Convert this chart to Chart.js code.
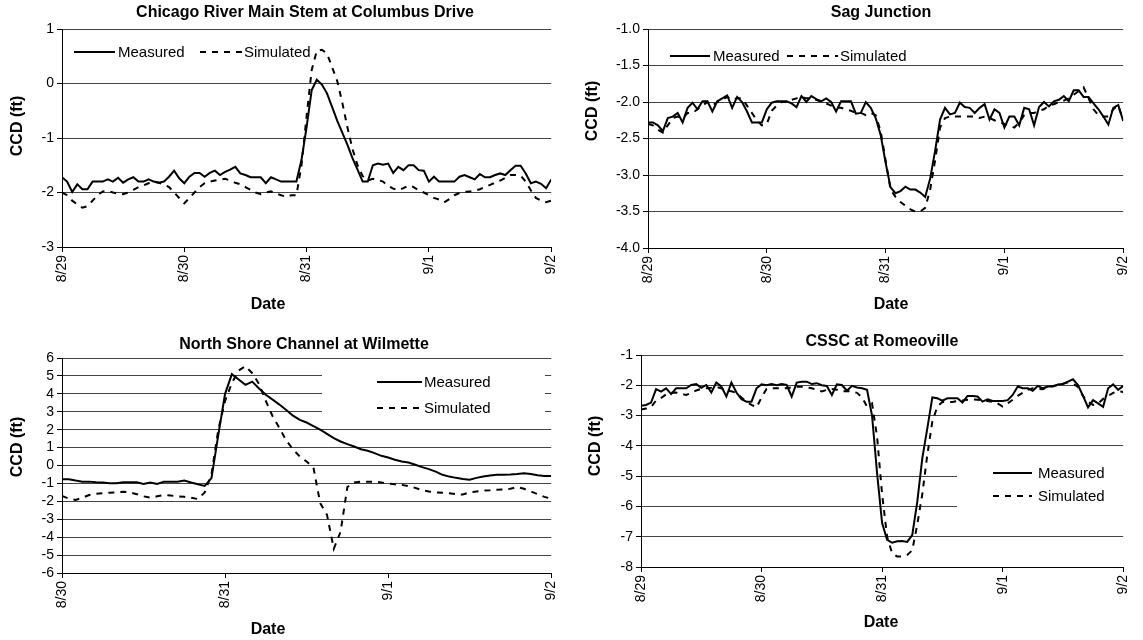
<!DOCTYPE html>
<html><head><meta charset="utf-8">
<script src="https://cdn.jsdelivr.net/npm/chart.js@4.4.1/dist/chart.umd.min.js"></script>
<style>
html,body{margin:0;padding:0;background:#fff;width:1143px;height:640px;overflow:hidden}
canvas{position:absolute}
</style></head><body>
<canvas id="c1" width="571" height="320" style="left:0px;top:0px"></canvas>
<canvas id="c2" width="572" height="320" style="left:571px;top:0px"></canvas>
<canvas id="c3" width="571" height="320" style="left:0px;top:320px"></canvas>
<canvas id="c4" width="572" height="320" style="left:571px;top:320px"></canvas>
<script>
// hourly sample times (hours after first date shown)
const hours4 = [0,1,2,3,4,5,6,7,8,9,10,11,12,13,14,15,16,17,18,19,20,21,22,23,24,25,26,27,28,29,30,31,32,33,34,35,36,37,38,39,40,41,42,43,44,45,46,47,48,49,50,51,52,53,54,55,56,57,58,59,60,61,62,63,64,65,66,67,68,69,70,71,72,73,74,75,76,77,78,79,80,81,82,83,84,85,86,87,88,89,90,91,92,93,94,95,96];
const hours3 = [0,1,2,3,4,5,6,7,8,9,10,11,12,13,14,15,16,17,18,19,20,21,22,23,24,25,26,27,28,29,30,31,32,33,34,35,36,37,38,39,40,41,42,43,44,45,46,47,48,49,50,51,52,53,54,55,56,57,58,59,60,61,62,63,64,65,66,67,68,69,70,71,72];
const dateTicks4 = ['8/29','8/30','8/31','9/1','9/2'];
const dateTicks3 = ['8/30','8/31','9/1','9/2'];
const seriesNames = ['Measured','Simulated'];

// Chicago River Main Stem at Columbus Drive
const p1Measured = [-1.72,-1.8,-1.99,-1.85,-1.94,-1.94,-1.8,-1.8,-1.8,-1.76,
 -1.8,-1.73,-1.82,-1.76,-1.72,-1.8,-1.8,-1.76,-1.8,-1.82,
 -1.8,-1.71,-1.6,-1.74,-1.83,-1.71,-1.64,-1.64,-1.71,-1.64,
 -1.6,-1.68,-1.62,-1.58,-1.53,-1.65,-1.68,-1.72,-1.72,-1.72,
 -1.83,-1.72,-1.76,-1.8,-1.8,-1.8,-1.8,-1.4,-0.8,-0.12,
 0.07,-0.02,-0.18,-0.43,-0.68,-0.9,-1.12,-1.37,-1.58,-1.8,
 -1.8,-1.5,-1.47,-1.49,-1.47,-1.64,-1.53,-1.59,-1.5,-1.5,
 -1.59,-1.6,-1.8,-1.71,-1.8,-1.8,-1.8,-1.8,-1.71,-1.68,
 -1.72,-1.76,-1.66,-1.72,-1.72,-1.68,-1.65,-1.68,-1.59,-1.51,
 -1.51,-1.65,-1.83,-1.8,-1.84,-1.92,-1.76];
const p1Simulated = [-2.0,-2.05,-2.15,-2.22,-2.28,-2.25,-2.15,-2.05,-1.98,-1.97,
 -2.0,-2.02,-2.03,-2.0,-1.95,-1.9,-1.87,-1.83,-1.8,-1.82,
 -1.85,-1.9,-2.0,-2.1,-2.2,-2.1,-2.0,-1.9,-1.83,-1.8,
 -1.78,-1.76,-1.75,-1.78,-1.82,-1.85,-1.9,-1.95,-2.0,-2.03,
 -2.0,-1.98,-2.02,-2.05,-2.08,-2.05,-2.05,-1.5,-0.6,0.25,
 0.6,0.62,0.55,0.3,0.05,-0.35,-0.8,-1.2,-1.5,-1.7,
 -1.78,-1.75,-1.77,-1.8,-1.88,-1.93,-1.96,-1.92,-1.87,-1.9,
 -1.96,-2.0,-2.05,-2.1,-2.13,-2.18,-2.12,-2.05,-2.01,-1.99,
 -1.98,-1.97,-1.94,-1.9,-1.86,-1.82,-1.78,-1.73,-1.68,-1.68,
 -1.69,-1.8,-1.96,-2.1,-2.15,-2.18,-2.15];

// Sag Junction
const p2Measured = [-2.28,-2.28,-2.32,-2.4,-2.22,-2.2,-2.15,-2.28,-2.08,-2.01,
 -2.1,-1.99,-1.99,-2.13,-1.99,-1.95,-1.91,-2.08,-1.93,-2.0,
 -2.13,-2.28,-2.28,-2.28,-2.1,-2.01,-1.99,-1.99,-1.99,-2.02,
 -2.07,-1.92,-2.0,-1.92,-1.96,-1.99,-1.95,-2.0,-2.13,-1.99,
 -1.99,-1.99,-2.16,-2.15,-2.0,-2.08,-2.22,-2.45,-2.83,-3.17,
 -3.25,-3.22,-3.16,-3.2,-3.2,-3.24,-3.3,-3.05,-2.67,-2.24,
 -2.08,-2.17,-2.15,-2.01,-2.07,-2.08,-2.15,-2.08,-2.03,-2.24,
 -2.1,-2.15,-2.35,-2.2,-2.2,-2.32,-2.08,-2.1,-2.32,-2.07,
 -2.0,-2.06,-1.99,-1.97,-1.92,-1.99,-1.84,-1.84,-1.93,-1.93,
 -2.02,-2.1,-2.2,-2.31,-2.08,-2.04,-2.26];
const p2Simulated = [-2.3,-2.32,-2.38,-2.42,-2.32,-2.22,-2.2,-2.22,-2.15,-2.15,
 -2.1,-2.05,-2.0,-2.05,-2.0,-1.97,-1.93,-1.97,-1.95,-1.95,
 -2.05,-2.15,-2.25,-2.32,-2.3,-2.12,-2.05,-2.0,-2.0,-1.97,
 -1.95,-1.93,-1.95,-1.95,-1.97,-2.0,-2.02,-2.05,-2.08,-2.08,
 -2.1,-2.12,-2.15,-2.15,-2.18,-2.15,-2.18,-2.4,-2.8,-3.2,
 -3.3,-3.37,-3.42,-3.47,-3.5,-3.5,-3.45,-3.2,-2.8,-2.35,
 -2.22,-2.2,-2.2,-2.2,-2.2,-2.2,-2.2,-2.22,-2.2,-2.22,
 -2.25,-2.28,-2.3,-2.32,-2.35,-2.28,-2.18,-2.15,-2.15,-2.12,
 -2.1,-2.05,-2.03,-2.0,-1.98,-1.95,-1.9,-1.85,-1.8,-1.95,
 -2.1,-2.18,-2.2,-2.2,-2.1,-2.05,-2.25];

// North Shore Channel at Wilmette
const p3Measured = [-0.77,-0.77,-0.84,-0.9,-0.9,-0.93,-0.95,-0.99,-0.99,-0.93,
 -0.93,-0.93,-1.03,-0.95,-1.03,-0.9,-0.9,-0.9,-0.84,-0.95,
 -1.05,-1.14,-0.7,1.7,4.0,5.1,4.8,4.5,4.68,4.3,
 3.95,3.68,3.4,3.1,2.78,2.55,2.4,2.2,2.0,1.77,
 1.53,1.34,1.19,1.06,0.91,0.82,0.69,0.54,0.45,0.32,
 0.22,0.17,0.04,-0.09,-0.2,-0.34,-0.52,-0.62,-0.69,-0.75,
 -0.8,-0.69,-0.62,-0.56,-0.52,-0.52,-0.5,-0.47,-0.43,-0.48,
 -0.54,-0.58,-0.58];
const p3Simulated = [-1.7,-1.85,-1.92,-1.8,-1.65,-1.58,-1.55,-1.52,-1.5,-1.47,
 -1.5,-1.6,-1.72,-1.8,-1.72,-1.65,-1.68,-1.72,-1.75,-1.8,
 -1.87,-1.5,-0.5,2.0,3.6,4.6,5.3,5.55,5.15,4.55,
 3.6,2.75,2.1,1.4,0.9,0.5,0.22,-0.1,-2.1,-2.75,
 -4.65,-3.7,-1.2,-0.95,-0.9,-0.9,-0.9,-0.95,-1.0,-1.05,
 -1.08,-1.15,-1.25,-1.38,-1.45,-1.5,-1.52,-1.55,-1.6,-1.62,
 -1.5,-1.45,-1.4,-1.38,-1.35,-1.33,-1.3,-1.2,-1.3,-1.45,
 -1.6,-1.75,-1.85];

// CSSC at Romeoville
const p4Measured = [-2.68,-2.65,-2.57,-2.13,-2.21,-2.1,-2.29,-2.1,-2.1,-2.1,
 -1.99,-1.96,-2.08,-1.99,-2.24,-1.91,-2.04,-2.37,-1.91,-2.24,
 -2.46,-2.54,-2.54,-2.1,-1.97,-2.0,-1.96,-2.0,-1.96,-1.99,
 -2.37,-1.91,-1.88,-1.88,-1.96,-1.93,-2.0,-2.02,-2.32,-1.97,
 -1.99,-2.18,-2.02,-2.07,-2.1,-2.15,-3.0,-4.9,-6.55,-7.1,
 -7.2,-7.15,-7.14,-7.17,-6.95,-5.85,-4.41,-3.42,-2.4,-2.43,
 -2.51,-2.43,-2.43,-2.43,-2.57,-2.35,-2.35,-2.37,-2.54,-2.46,
 -2.52,-2.52,-2.52,-2.49,-2.32,-2.04,-2.1,-2.1,-2.18,-2.02,
 -2.1,-2.04,-2.04,-1.97,-1.96,-1.88,-1.8,-1.99,-2.35,-2.73,
 -2.49,-2.6,-2.71,-2.1,-1.97,-2.15,-2.02];
const p4Simulated = [-2.8,-2.77,-2.72,-2.5,-2.42,-2.3,-2.25,-2.24,-2.28,-2.32,
 -2.25,-2.17,-2.12,-2.1,-2.08,-2.05,-2.1,-2.18,-2.2,-2.25,
 -2.4,-2.55,-2.65,-2.73,-2.4,-2.12,-2.1,-2.1,-2.1,-2.1,
 -2.07,-2.05,-2.05,-2.07,-2.1,-2.15,-2.2,-2.15,-2.12,-2.15,
 -2.2,-2.2,-2.2,-2.25,-2.4,-2.7,-2.6,-3.7,-5.6,-7.0,
 -7.55,-7.65,-7.65,-7.6,-7.45,-6.6,-5.6,-4.3,-3.2,-2.7,
 -2.55,-2.55,-2.55,-2.52,-2.5,-2.48,-2.47,-2.48,-2.5,-2.52,
 -2.55,-2.6,-2.7,-2.6,-2.48,-2.35,-2.25,-2.15,-2.1,-2.12,
 -2.13,-2.05,-2.02,-2.0,-1.95,-1.9,-1.95,-2.05,-2.35,-2.55,
 -2.65,-2.6,-2.45,-2.35,-2.25,-2.2,-2.22];

const FONT = '"Liberation Sans", Arial, Helvetica, sans-serif';
Chart.defaults.font.family = FONT;
Chart.defaults.color = '#000';

const decor = {
  id: 'decor',
  beforeDatasetsDraw(chart, args, o) {
    if (o.box) {
      const ctx = chart.ctx;
      ctx.save();
      ctx.fillStyle = '#fff';
      ctx.fillRect(o.box[0], o.box[1], o.box[2] - o.box[0], o.box[3] - o.box[1]);
      ctx.restore();
    }
  },
  afterDraw(chart, args, o) {
    const ctx = chart.ctx;
    ctx.save();
    ctx.fillStyle = '#000';
    ctx.textBaseline = 'middle';
    ctx.textAlign = 'center';
    ctx.font = 'bold 16px ' + FONT;
    ctx.fillText(o.title, o.titlePos[0], o.titlePos[1]);
    ctx.fillText(o.xTitle, o.xTitlePos[0], o.xTitlePos[1]);
    ctx.save();
    ctx.translate(o.yTitlePos[0], o.yTitlePos[1]);
    ctx.rotate(-Math.PI / 2);
    ctx.fillText(o.yTitle, 0, 0);
    ctx.restore();
    ctx.font = '15px ' + FONT;
    ctx.textAlign = 'left';
    for (let i = 0; i < o.legend.length; i++) {
      const it = o.legend[i];
      const ds = chart.data.datasets[i];
      ctx.beginPath();
      ctx.lineWidth = ds.borderWidth;
      ctx.strokeStyle = ds.borderColor;
      ctx.setLineDash(ds.borderDash || []);
      ctx.moveTo(it[0], it[3]);
      ctx.lineTo(it[1], it[3]);
      ctx.stroke();
      ctx.setLineDash([]);
      ctx.fillText(ds.label, it[2], it[3] + 1);
    }
    ctx.restore();
  }
};

function makeChart(id, cfg) {
  const maxH = cfg.hours[cfg.hours.length - 1];
  return new Chart(document.getElementById(id), {
    type: 'line',
    data: {
      labels: cfg.hours,
      datasets: [
        { label: seriesNames[0], data: cfg.measured, borderColor: '#000', borderWidth: 2,
          pointRadius: 0, tension: 0, fill: false },
        { label: seriesNames[1], data: cfg.simulated, borderColor: '#000', borderWidth: 2,
          borderDash: [6, 6], pointRadius: 0, tension: 0, fill: false }
      ]
    },
    options: {
      responsive: false,
      animation: false,
      devicePixelRatio: 1,
      layout: { padding: cfg.padding },
      plugins: {
        legend: { display: false },
        tooltip: { enabled: false },
        title: { display: false },
        decor: cfg.decor
      },
      scales: {
        x: {
          type: 'linear', min: 0, max: maxH,
          afterFit: (s) => { s.height = cfg.xHeight; },
          grid: { drawOnChartArea: false, drawTicks: true, tickLength: 5, tickColor: '#000', color: '#000' },
          border: { color: '#000', width: 1 },
          ticks: {
            stepSize: 24, autoSkip: false, maxRotation: 90, minRotation: 90, padding: 3,
            font: { size: 14 },
            callback: (v) => cfg.dateTicks[Math.round(v / 24)]
          }
        },
        y: {
          min: cfg.yMin, max: cfg.yMax,
          afterFit: (s) => { s.width = cfg.yWidth; },
          grid: { color: '#444', lineWidth: 1, drawTicks: true, tickLength: 5, tickColor: '#000' },
          border: { color: '#000', width: 1 },
          ticks: {
            stepSize: cfg.yStep, autoSkip: false, padding: 3, font: { size: 14 },
            callback: (v) => cfg.yDecimals ? Number(v).toFixed(cfg.yDecimals) : String(v)
          }
        }
      }
    },
    plugins: [decor]
  });
}

makeChart('c1', {
  hours: hours4, measured: p1Measured, simulated: p1Simulated, dateTicks: dateTicks4,
  yMin: -3, yMax: 1, yStep: 1, yDecimals: 0,
  padding: { top: 29, right: 16, left: 0, bottom: 0 }, yWidth: 62, xHeight: 73,
  decor: { title: 'Chicago River Main Stem at Columbus Drive', titlePos: [305, 13],
    xTitle: 'Date', xTitlePos: [268, 305], yTitle: 'CCD (ft)', yTitlePos: [18, 126],
    legend: [[74, 115, 118, 52], [200, 242, 244, 52]] }
});
makeChart('c2', {
  hours: hours4, measured: p2Measured, simulated: p2Simulated, dateTicks: dateTicks4,
  yMin: -4, yMax: -1, yStep: 0.5, yDecimals: 1,
  padding: { top: 29, right: 13, left: 0, bottom: 0 }, yWidth: 77, xHeight: 72,
  decor: { title: 'Sag Junction', titlePos: [310, 13],
    xTitle: 'Date', xTitlePos: [320, 305], yTitle: 'CCD (ft)', yTitlePos: [22, 111],
    legend: [[99, 139, 142, 56], [216, 267, 269, 56]] }
});
makeChart('c3', {
  hours: hours3, measured: p3Measured, simulated: p3Simulated, dateTicks: dateTicks3,
  yMin: -6, yMax: 6, yStep: 1, yDecimals: 0,
  padding: { top: 38, right: 16, left: 0, bottom: 0 }, yWidth: 62, xHeight: 67,
  decor: { title: 'North Shore Channel at Wilmette', titlePos: [304, 25],
    xTitle: 'Date', xTitlePos: [268, 310], yTitle: 'CCD (ft)', yTitlePos: [18, 127],
    box: [322, 44, 545, 104],
    legend: [[377, 422, 424, 62], [377, 422, 424, 88]] }
});
makeChart('c4', {
  hours: hours4, measured: p4Measured, simulated: p4Simulated, dateTicks: dateTicks4,
  yMin: -8, yMax: -1, yStep: 1, yDecimals: 0,
  padding: { top: 35, right: 10, left: 0, bottom: 0 }, yWidth: 70, xHeight: 73,
  decor: { title: 'CSSC at Romeoville', titlePos: [311, 22],
    xTitle: 'Date', xTitlePos: [310, 303], yTitle: 'CCD (ft)', yTitlePos: [25, 126],
    box: [386, 135, 572, 205],
    legend: [[422, 461, 467, 153], [422, 461, 467, 176]] }
});
</script>
</body></html>
